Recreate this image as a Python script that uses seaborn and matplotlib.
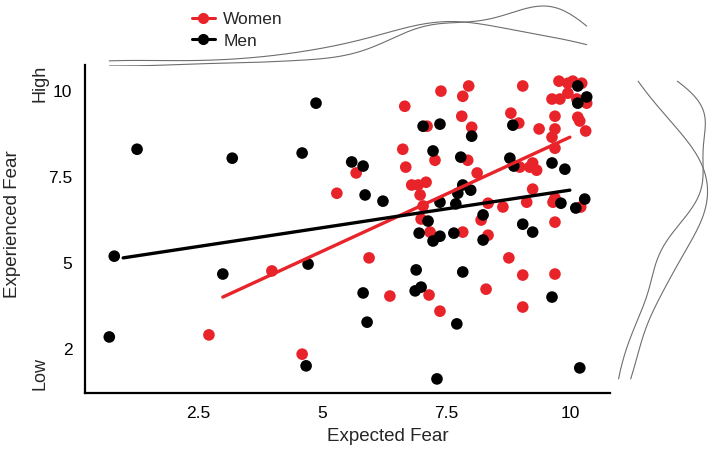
import numpy as np
import pandas as pd
import matplotlib
matplotlib.use("Agg")
import matplotlib.pyplot as plt
from matplotlib.lines import Line2D
import seaborn as sns

# values
women_x = [2.72, 3.99, 4.60, 5.30, 5.69, 5.95, 6.37, 6.63, 6.67, 6.69, 6.81, 6.94, 7.10, 6.98,
           7.04, 7.00, 7.18, 7.12, 7.28, 7.40, 7.16, 7.38, 7.96, 7.84, 7.82, 8.02, 7.94, 8.13,
           7.84, 8.21, 8.35, 8.35, 8.31, 8.65, 8.77, 8.81, 8.97, 9.05, 8.99, 9.19, 9.25, 9.33,
           9.25, 9.13, 9.05, 9.05, 9.38, 9.64, 9.80, 9.70, 9.70, 9.64, 9.70, 9.66, 9.70, 9.70,
           9.70, 9.78, 9.96, 10.06, 10.24, 9.96, 10.14, 10.34, 10.16, 10.20, 10.32, 10.22]
women_y = [2.91, 4.77, 2.35, 7.03, 7.62, 5.15, 4.04, 8.31, 9.56, 7.79, 7.27, 7.27, 7.35, 6.98,
           6.66, 6.28, 5.90, 8.98, 7.99, 10.00, 4.07, 3.60, 10.15, 9.85, 9.27, 8.95, 7.99, 7.62,
           5.90, 6.25, 6.74, 5.81, 4.24, 6.63, 5.15, 9.36, 9.07, 10.15, 7.79, 7.79, 7.91, 7.70,
           7.15, 6.77, 4.65, 3.72, 8.90, 9.77, 9.77, 9.27, 8.90, 8.66, 8.34, 6.77, 6.89, 6.19,
           4.68, 10.29, 10.23, 10.29, 10.23, 9.94, 9.77, 9.65, 9.24, 9.13, 8.84, 6.63]

men_x = [0.71, 0.81, 1.27, 3.00, 3.19, 4.60, 4.88, 4.72, 4.68, 5.60, 5.83, 5.87, 6.23, 5.83,
         5.91, 7.04, 7.38, 8.02, 8.85, 10.16, 10.34, 10.16, 7.24, 7.80, 8.79, 8.87, 9.64, 9.90,
         7.38, 7.70, 7.84, 7.74, 8.00, 8.25, 7.14, 9.05, 9.25, 9.82, 10.12, 10.30, 6.96, 7.24,
         7.38, 7.66, 8.25, 6.90, 7.84, 6.88, 7.00, 9.64, 7.72, 7.32, 10.20]
men_y = [2.85, 5.20, 8.31, 4.68, 8.05, 8.20, 9.65, 4.97, 2.01, 7.94, 7.82, 6.98, 6.80, 4.13,
         3.28, 8.98, 9.04, 8.69, 9.01, 10.15, 9.83, 9.65, 8.26, 8.08, 8.05, 7.82, 7.91, 7.73,
         6.77, 6.72, 7.27, 7.03, 7.12, 6.40, 6.22, 6.13, 5.90, 6.74, 6.60, 6.86, 5.87, 5.64,
         5.78, 5.87, 5.67, 4.80, 4.74, 4.19, 4.30, 4.01, 3.23, 1.63, 1.95]

# fitted lines as drawn in the reference
women_fit_x = [3.0, 10.0]
women_fit_y = [4.01, 8.66]
men_fit_x = [0.99, 10.0]
men_fit_y = [5.15, 7.12]

groups = ["Women", "Men"]
colors = {"Women": "#E8232A", "Men": "#000000"}
x_ticks = [2.5, 5, 7.5, 10]
x_tick_labels = ["2.5", "5", "7.5", "10"]
y_ticks = [2.5, 5, 7.5, 10]
y_tick_labels = ["2", "5", "7.5", "10"]

df = pd.concat([
    pd.DataFrame({"expected": women_x, "experienced": women_y, "group": "Women"}),
    pd.DataFrame({"expected": men_x, "experienced": men_y, "group": "Men"}),
], ignore_index=True)
fits = pd.concat([
    pd.DataFrame({"x": women_fit_x, "y": women_fit_y, "group": "Women"}),
    pd.DataFrame({"x": men_fit_x, "y": men_fit_y, "group": "Men"}),
], ignore_index=True)

sns.set_style("white")
plt.rcParams["font.family"] = ["Liberation Sans", "DejaVu Sans"]

W, H = 714, 451
fig = plt.figure(figsize=(W / 100, H / 100), dpi=100)
ax = fig.add_axes([85 / W, 1 - 393 / H, 525 / W, 328 / H])
ax_top = fig.add_axes([85 / W, 1 - 66 / H, 525 / W, 63 / H], sharex=ax)
ax_right = fig.add_axes([614 / W, 1 - 393 / H, 98 / W, 328 / H], sharey=ax)

sns.scatterplot(data=df, x="expected", y="experienced", hue="group", palette=colors,
                s=70, linewidth=0, alpha=1, legend=False, ax=ax, zorder=2)
sns.lineplot(data=fits, x="x", y="y", hue="group", palette=colors, linewidth=2.4,
             legend=False, ax=ax, zorder=3)

xmin, xmax = df["expected"].min(), df["expected"].max()
ymin, ymax = df["experienced"].min(), df["experienced"].max()
for g in groups:
    sub = df[df["group"] == g]
    sns.kdeplot(x=sub["expected"], ax=ax_top, color="#6e6e6e", linewidth=0.8,
                cut=3, clip=(xmin, xmax))
    sns.kdeplot(y=sub["experienced"], ax=ax_right, color="#6e6e6e", linewidth=0.8,
                cut=3, clip=(ymin, ymax))

ax.set_xlim(0.22, 10.81)
ax.set_ylim(1.22, 10.76)
ax.set_xticks(x_ticks)
ax.set_xticklabels(x_tick_labels)
ax.set_yticks(y_ticks)
ax.set_yticklabels(y_tick_labels)
ax.tick_params(direction="out", length=5, width=1.2, labelsize=12.5, color="black",
               labelcolor="black", pad=4)
sns.despine(ax=ax)
for side in ["left", "bottom"]:
    ax.spines[side].set_linewidth(1.6)
    ax.spines[side].set_color("black")

ax.set_xlabel("Expected Fear", fontsize=13.5)
ax.set_ylabel("")
ax.xaxis.set_label_coords(0.577, -0.108)
fig.text(13 / W, 1 - 224 / H, "Experienced Fear", rotation=90, ha="center", va="center",
         fontsize=13.5)
fig.text(40 / W, 1 - 83 / H, "High", rotation=90, ha="center", va="center", fontsize=13)
fig.text(40 / W, 1 - 373 / H, "Low", rotation=90, ha="center", va="center", fontsize=13)

ax_top.set_ylim(bottom=0)
ax_right.set_xlim(left=0)
for a in [ax_top, ax_right]:
    a.set_axis_off()

handles = [Line2D([0], [0], color=colors[g], marker="o", markersize=7, linewidth=2.2)
           for g in groups]
fig.legend(handles, groups, loc="upper left", bbox_to_anchor=(180 / W, 1 + 0 / H),
           frameon=False, fontsize=12.5, handlelength=1.3, handletextpad=0.5,
           labelspacing=0.35, borderpad=0.2)

fig.savefig("out.png", dpi=100)
